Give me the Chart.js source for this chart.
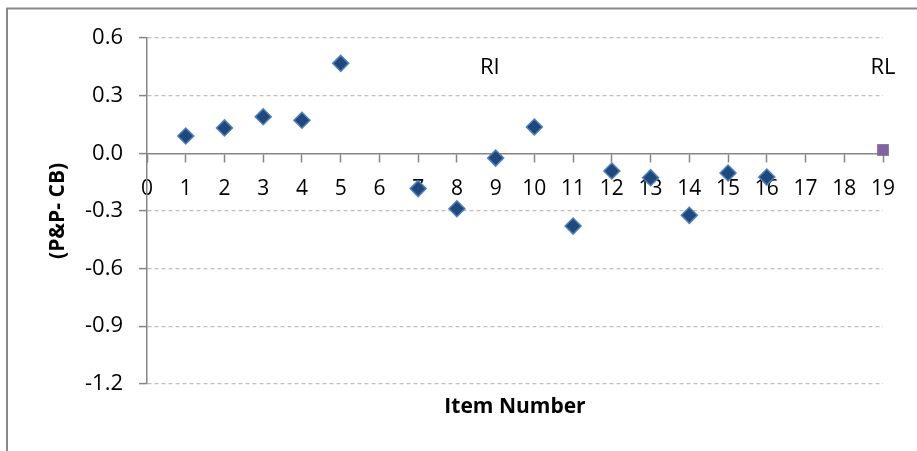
<!DOCTYPE html>
<html>
<head>
<meta charset="utf-8">
<script src="https://cdn.jsdelivr.net/npm/chart.js@4/dist/chart.umd.min.js"></script>
<style>
  html, body { margin: 0; padding: 0; background: #ffffff; }
  #wrap { width: 917px; height: 451px; position: relative; }
</style>
</head>
<body>
<div id="wrap"><canvas id="chart"></canvas></div>
<script>
// Item numbers and their (P&P - CB) differences
const itemNumbers = [1, 2, 3, 4, 5, 7, 8, 9, 10, 11, 12, 13, 14, 15, 16];
const itemDiffs = [0.09, 0.132, 0.19, 0.172, 0.468, -0.184, -0.289, -0.025, 0.137, -0.379, -0.092, -0.127, -0.323, -0.103, -0.124];

// Reference point
const refItem = [19];
const refDiff = [0.017];

// Text labels placed on the plot
const noteTexts = ['RI', 'RL'];
const noteX = [8.85, 19];
const noteY = [0.443, 0.443];

// Axis ranges and ticks
const yTicks = [-1.2, -0.9, -0.6, -0.3, 0.0, 0.3, 0.6];
const xMin = 0, xMax = 19;

const FONT = '"Open Sans", Lato, "Liberation Sans", sans-serif';

const frame = {
  id: 'frame',
  beforeDraw(chart) {
    const ctx = chart.ctx;
    ctx.save();
    ctx.fillStyle = '#ffffff';
    ctx.fillRect(0, 0, chart.width, chart.height);
    ctx.strokeStyle = '#888888';
    ctx.lineWidth = 2;
    ctx.beginPath();
    ctx.moveTo(7, chart.height + 2);
    ctx.lineTo(7, 8.5);
    ctx.lineTo(chart.width + 2, 8.5);
    ctx.stroke();
    ctx.restore();
  }
};

const notes = {
  id: 'notes',
  afterDatasetsDraw(chart) {
    const ctx = chart.ctx;
    const xs = chart.scales.x, ys = chart.scales.y;
    ctx.save();
    ctx.fillStyle = '#000000';
    ctx.font = '22px ' + FONT;
    ctx.textAlign = 'center';
    ctx.textBaseline = 'middle';
    noteTexts.forEach((t, i) => {
      ctx.fillText(t, xs.getPixelForValue(noteX[i]), ys.getPixelForValue(noteY[i]));
    });
    ctx.restore();
  }
};

new Chart(document.getElementById('chart'), {
  type: 'scatter',
  data: {
    datasets: [
      {
        label: 'Items',
        data: itemNumbers.map((x, i) => ({ x: x, y: itemDiffs[i] })),
        pointStyle: 'rectRot',
        pointRadius: 8,
        pointHoverRadius: 8,
        backgroundColor: '#1F497D',
        borderColor: '#4F81BD',
        borderWidth: 1.5
      },
      {
        label: 'RL',
        data: refItem.map((x, i) => ({ x: x, y: refDiff[i] })),
        pointStyle: 'rect',
        pointRadius: 8.3,
        pointHoverRadius: 8.3,
        backgroundColor: '#8064A2',
        borderColor: '#8064A2',
        borderWidth: 0
      }
    ]
  },
  options: {
    responsive: true,
    maintainAspectRatio: false,
    animation: false,
    clip: false,
    layout: { padding: { left: 10, right: 34, top: 38, bottom: 31 } },
    plugins: {
      legend: { display: false },
      tooltip: { enabled: false },
      title: { display: false }
    },
    scales: {
      x: {
        type: 'linear',
        position: { y: 0 },
        min: xMin,
        max: xMax,
        ticks: {
          stepSize: 1,
          autoSkip: false,
          maxRotation: 0,
          padding: 15,
          color: '#000000',
          font: { family: FONT, size: 21 }
        },
        grid: {
          drawOnChartArea: false,
          drawTicks: true,
          tickLength: 8,
          tickColor: '#868686',
          tickWidth: 1.5
        },
        border: { display: true, color: '#868686', width: 1.5 }
      },
      x2: {
        type: 'linear',
        position: 'bottom',
        min: xMin,
        max: xMax,
        ticks: { display: false },
        grid: { display: false, drawTicks: false },
        border: { display: false },
        title: {
          display: true,
          text: 'Item Number',
          color: '#000000',
          font: { family: FONT, size: 21, weight: 'bold' },
          padding: { top: 11, bottom: 0 }
        }
      },
      y: {
        type: 'linear',
        position: 'left',
        min: -1.2,
        max: 0.6,
        afterBuildTicks(scale) {
          scale.ticks = yTicks.map(v => ({ value: v }));
        },
        afterFit(scale) { scale.width = 137; },
        ticks: {
          padding: 16,
          color: '#000000',
          font: { family: FONT, size: 22 },
          callback: v => Number(v).toFixed(1)
        },
        grid: {
          color: ctx => (ctx.tick && Math.abs(ctx.tick.value) < 1e-9) ? 'rgba(0,0,0,0)' : '#BFBFBF',
          lineWidth: 1.2,
          drawTicks: true,
          tickLength: 8,
          tickColor: '#868686',
          tickWidth: 1.5
        },
        border: { display: true, color: '#868686', width: 1.5, dash: [4, 3] },
        title: {
          display: true,
          text: '(P&P- CB)',
          color: '#000000',
          font: { family: FONT, size: 21, weight: 'bold' },
          padding: { top: 35, bottom: 0 }
        }
      }
    }
  },
  plugins: [frame, notes]
});
</script>
</body>
</html>
